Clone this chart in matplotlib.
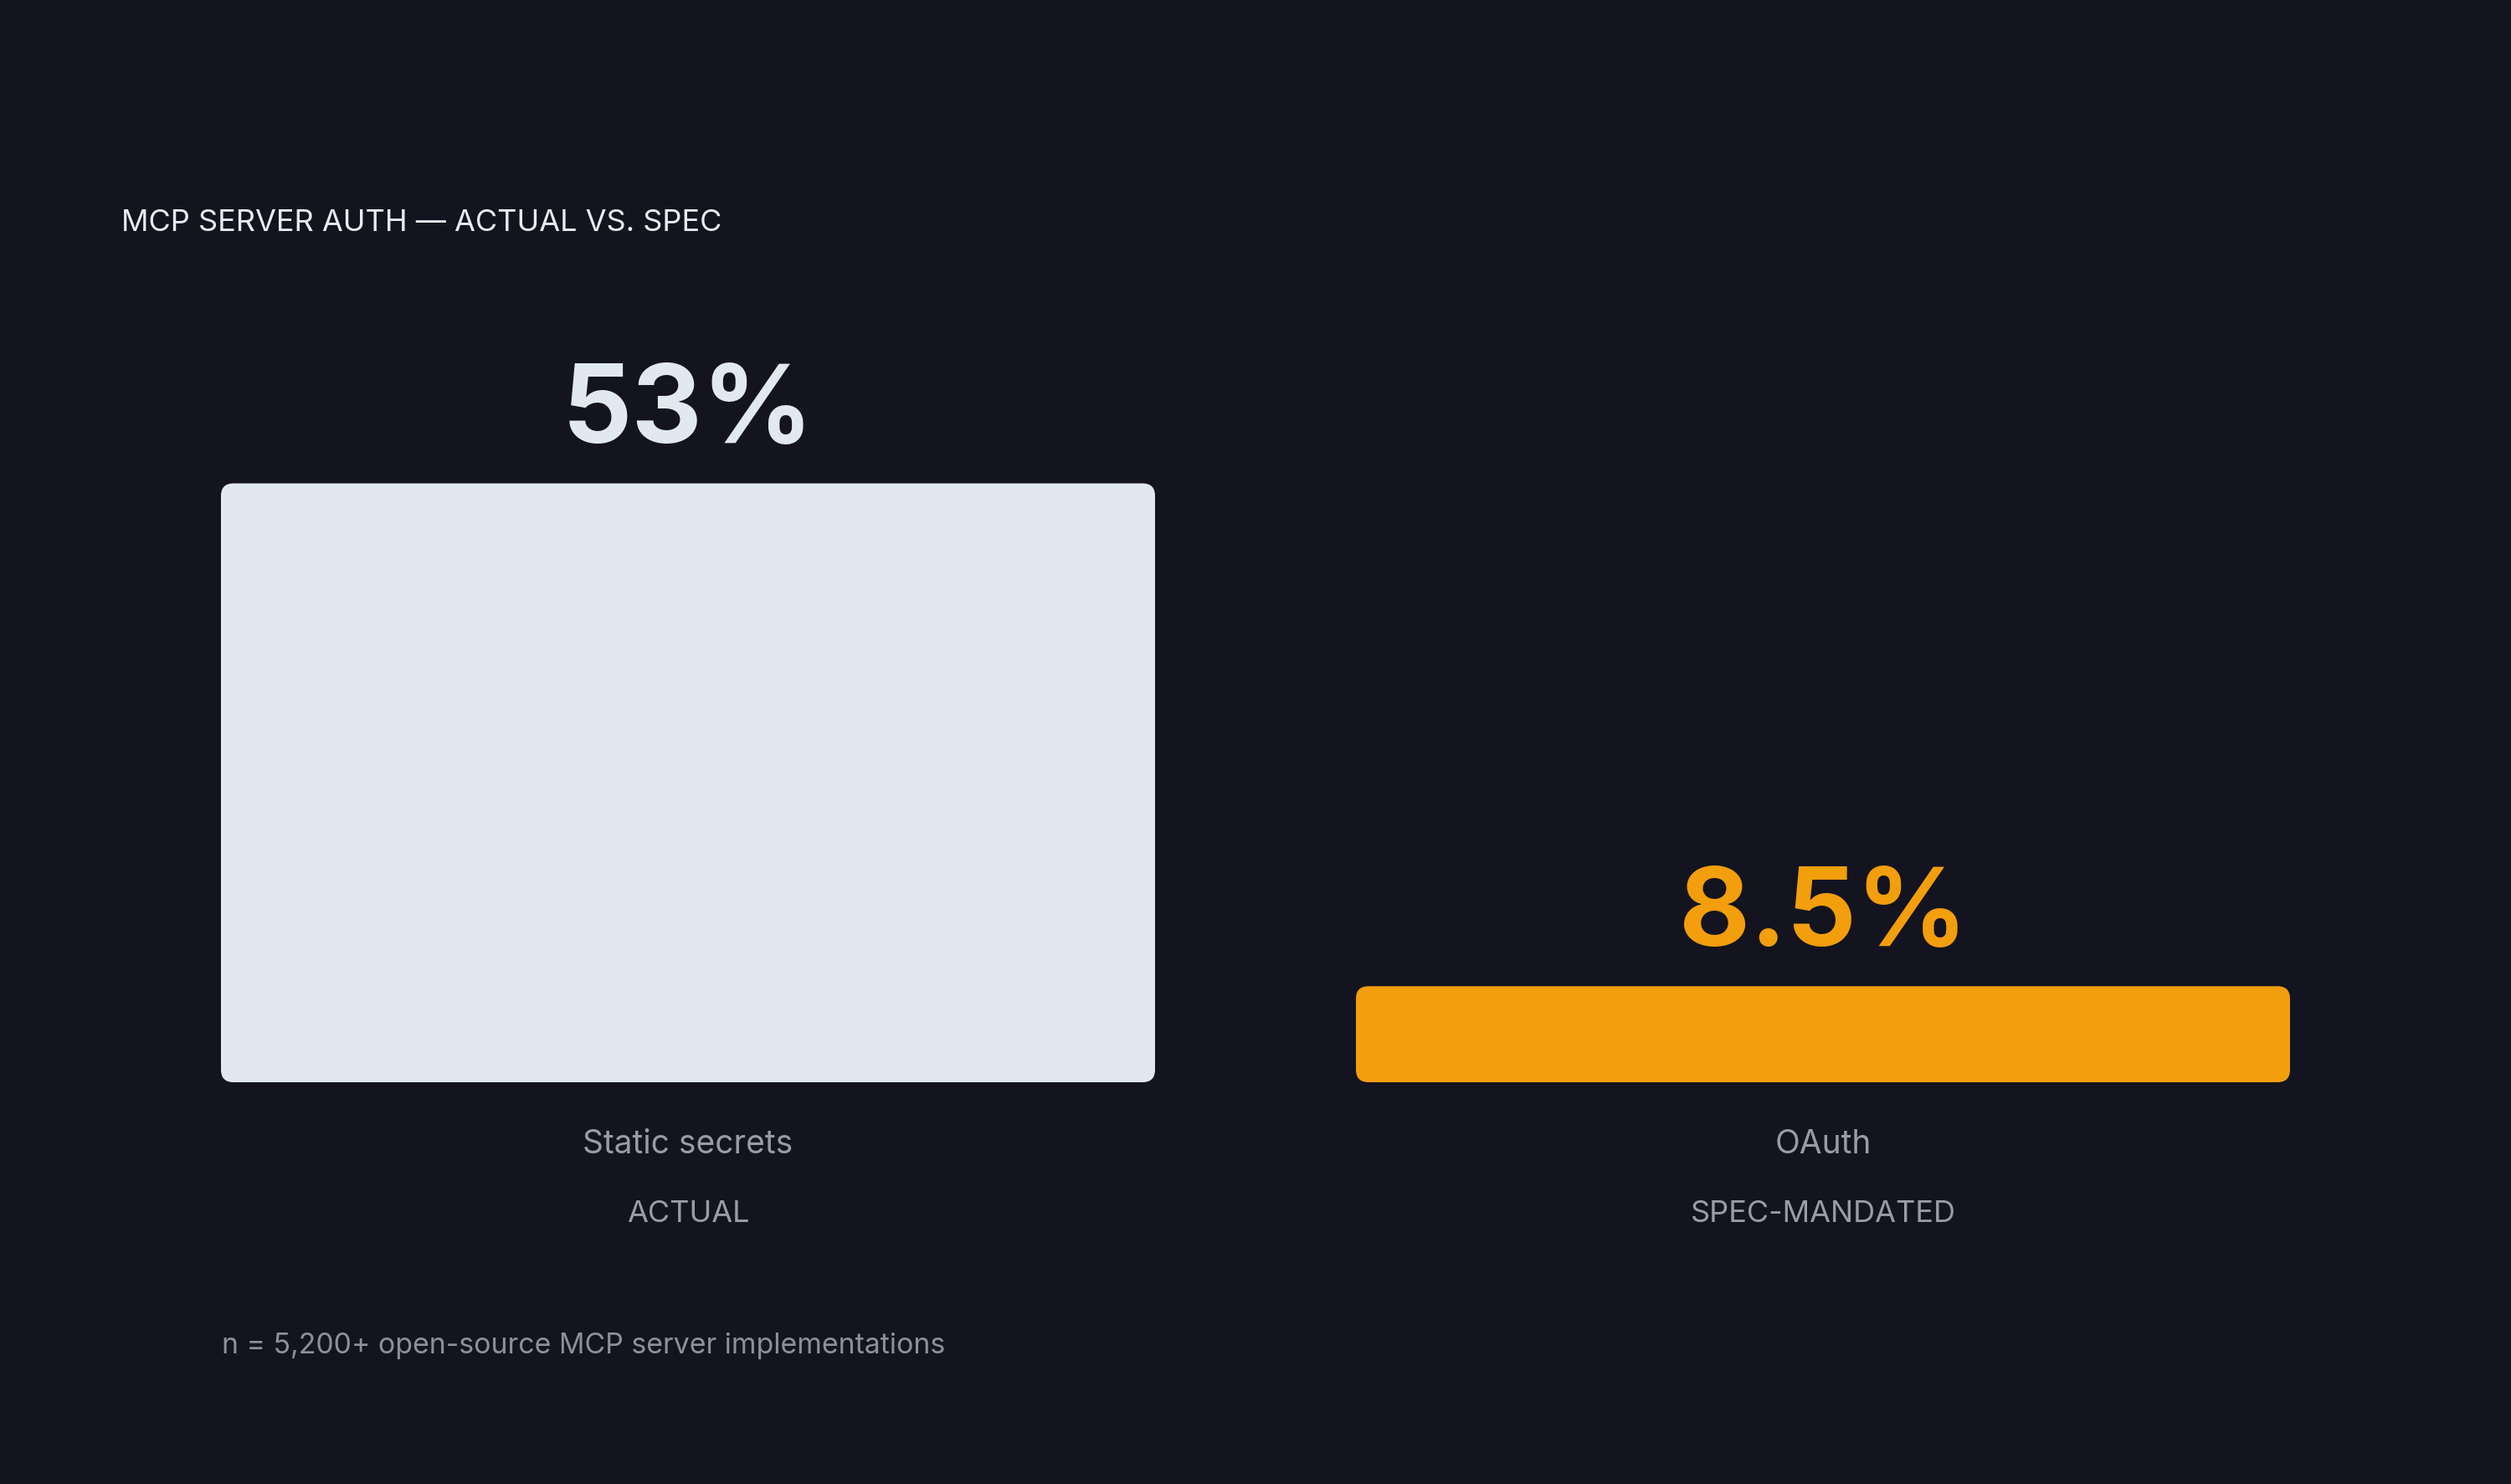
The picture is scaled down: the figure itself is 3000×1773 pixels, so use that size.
import matplotlib.pyplot as plt
from matplotlib.patches import FancyBboxPatch

# data
categories = ["Static secrets", "OAuth"]
sublabels = ["ACTUAL", "SPEC-MANDATED"]
values = [53, 8.5]
value_labels = ["53%", "8.5%"]

BG = "#13141f"
bar_colors = ["#e2e8f0", "#f39e0c"]
label_gray = "#9a9ba6"

plt.rcParams['font.family'] = ['Inter', 'DejaVu Sans']

W, H = 3000, 1773
fig = plt.figure(figsize=(15, 8.865), dpi=200, facecolor=BG)

# axes: bars span px 264..2736, baseline at px 1293, 13.5 px per unit
bw = 0.823
ymax = 60
ax = fig.add_axes([264 / W, (H - 1293) / H, 2472 / W, ymax * 13.5 / H])
ax.set_facecolor(BG)
ax.set_xlim(-bw / 2, 1 + bw / 2)
ax.set_ylim(0, ymax)
ax.axis('off')

x_per_px = (1 + bw) / 2472
y_per_px = 1 / 13.5
radius = 15 * x_per_px

for i, (v, c) in enumerate(zip(values, bar_colors)):
    box = FancyBboxPatch((i - bw / 2, 0), bw, v,
                         boxstyle=f"round,pad=0,rounding_size={radius}",
                         mutation_aspect=y_per_px / x_per_px,
                         facecolor=c, edgecolor='none')
    ax.add_patch(box)
    ax.annotate(value_labels[i], xy=(i, v), xytext=(0, 17.5), textcoords='offset points',
                ha='center', va='baseline', fontsize=47, fontweight='bold', color=c)
    ax.annotate(categories[i], xy=(i, 0), xytext=(0, -30.6), textcoords='offset points',
                ha='center', va='baseline', fontsize=14, color=label_gray)
    ax.annotate(sublabels[i], xy=(i, 0), xytext=(0, -60.1), textcoords='offset points',
                ha='center', va='baseline', fontsize=13, color=label_gray)

fig.text(145 / W, 1 - 276 / H, "MCP SERVER AUTH — ACTUAL VS. SPEC",
         ha='left', va='baseline', fontsize=13, color="#e8ebf0")
fig.text(265 / W, 1 - 1617 / H, "n = 5,200+ open-source MCP server implementations",
         ha='left', va='baseline', fontsize=12.2, color="#8e8f9b")

fig.savefig("out.png", dpi=200, facecolor=BG)
